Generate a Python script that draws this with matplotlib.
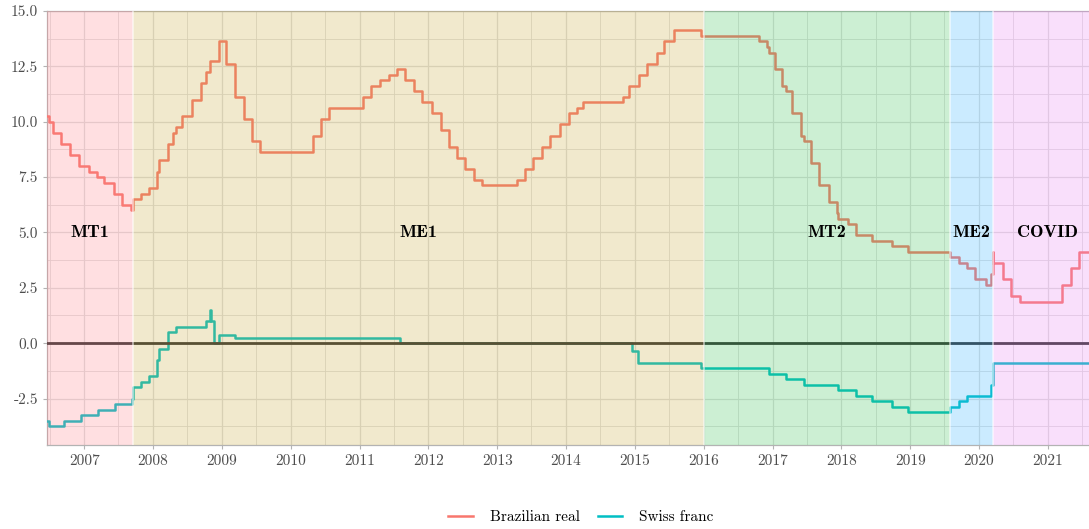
import matplotlib
matplotlib.use("Agg")
import matplotlib.pyplot as plt
import matplotlib.dates as mdates
from matplotlib.lines import Line2D
import pandas as pd

# interest rate differentials (change dates and new values)
brl_dates = ["2006-06-16", "2006-06-29", "2006-07-19", "2006-08-30", "2006-10-18", "2006-12-06",
             "2007-01-24", "2007-03-07", "2007-04-18", "2007-06-06", "2007-07-18", "2007-09-05",
             "2007-09-18", "2007-10-31", "2007-12-11", "2008-01-22", "2008-01-30", "2008-03-18",
             "2008-04-16", "2008-04-30", "2008-06-04", "2008-07-23", "2008-09-10", "2008-10-08",
             "2008-10-29", "2008-12-16", "2009-01-21", "2009-03-11", "2009-04-29", "2009-06-10",
             "2009-07-22", "2010-04-28", "2010-06-09", "2010-07-21", "2011-01-19", "2011-03-02",
             "2011-04-20", "2011-06-08", "2011-07-20", "2011-08-31", "2011-10-19", "2011-11-30",
             "2012-01-18", "2012-03-07", "2012-04-18", "2012-05-30", "2012-07-11", "2012-08-29",
             "2012-10-10", "2013-04-17", "2013-05-29", "2013-07-10", "2013-08-28", "2013-10-09",
             "2013-11-27", "2014-01-15", "2014-02-26", "2014-04-02", "2014-10-29", "2014-12-03",
             "2015-01-21", "2015-03-04", "2015-04-29", "2015-06-03", "2015-07-29", "2015-12-16",
             "2016-10-19", "2016-11-30", "2016-12-14", "2017-01-11", "2017-02-22", "2017-03-15",
             "2017-04-12", "2017-05-31", "2017-06-14", "2017-07-26", "2017-09-06", "2017-10-25",
             "2017-12-06", "2017-12-13", "2018-02-07", "2018-03-21", "2018-06-13", "2018-09-26",
             "2018-12-19", "2019-07-31", "2019-09-18", "2019-10-30", "2019-12-11", "2020-02-05",
             "2020-03-03", "2020-03-15", "2020-03-18", "2020-05-06", "2020-06-17", "2020-08-05",
             "2021-03-17", "2021-05-05", "2021-06-16", "2021-08-07"]
brl_values = [10.25, 10.0, 9.5, 9.0, 8.5, 8.0,
              7.75, 7.5, 7.25, 6.75, 6.25, 6.0,
              6.5, 6.75, 7.0, 7.75, 8.25, 9.0,
              9.5, 9.75, 10.25, 11.0, 11.75, 12.25,
              12.75, 13.625, 12.625, 11.125, 10.125, 9.125,
              8.625, 9.375, 10.125, 10.625, 11.125, 11.625,
              11.875, 12.125, 12.375, 11.875, 11.375, 10.875,
              10.375, 9.625, 8.875, 8.375, 7.875, 7.375,
              7.125, 7.375, 7.875, 8.375, 8.875, 9.375,
              9.875, 10.375, 10.625, 10.875, 11.125, 11.625,
              12.125, 12.625, 13.125, 13.625, 14.125, 13.875,
              13.625, 13.375, 13.125, 12.375, 11.625, 11.375,
              10.375, 9.375, 9.125, 8.125, 7.125, 6.375,
              5.875, 5.625, 5.375, 4.875, 4.625, 4.375,
              4.125, 3.875, 3.625, 3.375, 2.875, 2.625,
              3.125, 4.125, 3.625, 2.875, 2.125, 1.875,
              2.625, 3.375, 4.125, 4.125]

chf_dates = ["2006-06-16", "2006-06-29", "2006-09-14", "2006-12-14", "2007-03-15", "2007-06-14",
             "2007-09-13", "2007-09-18", "2007-10-31", "2007-12-11", "2008-01-22", "2008-01-30",
             "2008-03-18", "2008-04-30", "2008-10-08", "2008-10-29", "2008-11-06", "2008-11-20",
             "2008-12-16", "2009-03-12", "2011-08-03", "2014-12-18", "2015-01-15", "2015-12-16",
             "2016-12-14", "2017-03-15", "2017-06-14", "2017-12-13", "2018-03-21", "2018-06-13",
             "2018-09-26", "2018-12-19", "2019-07-31", "2019-09-18", "2019-10-30", "2020-03-03",
             "2020-03-15", "2021-08-07"]
chf_values = [-3.5, -3.75, -3.5, -3.25, -3.0, -2.75,
              -2.5, -2.0, -1.75, -1.5, -0.75, -0.25,
              0.5, 0.75, 1.0, 1.5, 1.0, 0.0,
              0.375, 0.25, 0.0, -0.375, -0.875, -1.125,
              -1.375, -1.625, -1.875, -2.125, -2.375, -2.625,
              -2.875, -3.125, -2.875, -2.625, -2.375, -1.875,
              -0.875, -0.875]

regions = ["MT1", "ME1", "MT2", "ME2", "COVID"]
region_start = ["2006-06-16", "2007-09-18", "2016-01-01", "2019-07-31", "2020-03-15"]
region_end = ["2007-09-18", "2016-01-01", "2019-07-31", "2020-03-15", "2021-10-20"]
region_colors = ["#FF838B", "#C8A838", "#37C353", "#33B3FF", "#EB83F3"]

plt.rcParams["font.family"] = "cmr10"
plt.rcParams["axes.unicode_minus"] = False

fig = plt.figure(figsize=(10.89, 5.29), dpi=100)
ax = fig.add_axes([47 / 1089, 1 - 445 / 529, 1 - 47 / 1089, (445 - 11) / 529])

ax.plot(pd.to_datetime(brl_dates), brl_values, drawstyle="steps-post", color="#F8766D", lw=1.8, zorder=3)
ax.plot(pd.to_datetime(chf_dates), chf_values, drawstyle="steps-post", color="#00BFC4", lw=1.8, zorder=3)
# zero line sits over the series
ax.axhline(0, color="#333333", lw=2.0, zorder=3.5)

for name, s, e, c in zip(regions, region_start, region_end, region_colors):
    s = pd.Timestamp(s)
    e = pd.Timestamp(e)
    ax.axvspan(s, e, color=c, alpha=0.25, lw=0, zorder=4)
    ax.axvline(e, color="white", lw=1.2, alpha=0.6, zorder=4.5)
    ax.text(s + (e - s) / 2, 5.0, name, fontfamily="cmb10", fontsize=13, ha="center", va="center", zorder=6)

ax.set_xlim(pd.Timestamp("2006-06-17"), pd.Timestamp("2021-08-07"))
ax.set_ylim(-4.6, 15)

ax.xaxis.set_major_locator(mdates.YearLocator())
ax.xaxis.set_major_formatter(mdates.DateFormatter("%Y"))
ax.xaxis.set_minor_locator(mdates.MonthLocator(bymonth=7))
yt = [-2.5, 0, 2.5, 5, 7.5, 10, 12.5, 15]
ax.set_yticks(yt)
ax.set_yticklabels(["-2.5", "0.0", "2.5", "5.0", "7.5", "10.0", "12.5", "15.0"])
ax.set_yticks([-3.75, -1.25, 1.25, 3.75, 6.25, 8.75, 11.25, 13.75], minor=True)

ax.grid(which="major", color="#DEDEDE", lw=0.9, zorder=0)
ax.grid(which="minor", color="#DEDEDE", lw=0.6, zorder=0)
ax.set_axisbelow(True)
ax.tick_params(which="major", length=3, color="#B3B3B3", labelcolor="#4D4D4D", labelsize=11)
ax.tick_params(which="minor", length=0)
for side in ["top", "left", "bottom"]:
    ax.spines[side].set_color("#B3B3B3")
    ax.spines[side].set_linewidth(0.9)
ax.spines["right"].set_visible(False)

handles = [Line2D([], [], color="#F8766D", lw=1.8), Line2D([], [], color="#00BFC4", lw=1.8)]
fig.legend(handles, ["Brazilian real", "Swiss franc"], loc="center", bbox_to_anchor=(581 / 1089, 1 - 517 / 529),
           ncol=2, frameon=False, fontsize=11, handlelength=1.6, columnspacing=1.2, handletextpad=1.1)

fig.savefig("out.png", dpi=100)
